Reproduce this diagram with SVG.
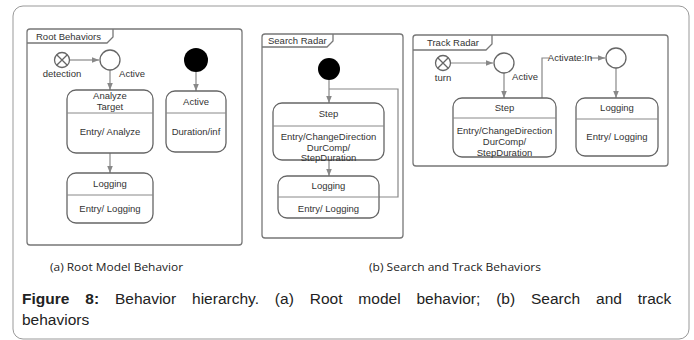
<svg xmlns="http://www.w3.org/2000/svg" width="694" height="340" viewBox="0 0 694 340">
<defs>
<marker id="ah" viewBox="0 0 10 10" refX="10" refY="5" markerWidth="7" markerHeight="7" markerUnits="userSpaceOnUse" orient="auto">
<path d="M0,1 L10,5 L0,9 Z" fill="#888"/>
</marker>
<style>
.frame{fill:none;stroke:#777;stroke-width:1.3}
.st{fill:#fff;stroke:#666;stroke-width:1.3}
.dv{stroke:#888;stroke-width:1}
.ln{fill:none;stroke:#888;stroke-width:1.2}
.arr{fill:none;stroke:#888;stroke-width:1.2;marker-end:url(#ah)}
.t{font-family:"Liberation Sans",Arial,sans-serif;font-size:9.5px;fill:#333;text-anchor:middle}
.tl{font-family:"Liberation Sans",Arial,sans-serif;font-size:9.5px;fill:#333}
.cap{font-family:"Open Sans","Liberation Sans",sans-serif;font-size:10px;fill:#222}
.fig{font-family:"Liberation Sans",Arial,sans-serif;font-size:15.5px;fill:#222}
</style>
</defs>
<rect x="13" y="6" width="676" height="333" rx="10" fill="#fff" stroke="#999" stroke-width="1"/>

<g id="root-frame">
<rect class="frame" x="27" y="29" width="215" height="216" rx="3"/>
<path class="frame" d="M27,43 H107 L113,37 V29"/>
<text class="tl" x="36" y="39.5">Root Behaviors</text>
</g>
<g id="search-frame">
<rect class="frame" x="262" y="34" width="141" height="204" rx="3"/>
<path class="frame" d="M262,47 H327 L333,41 V34"/>
<text class="tl" x="268" y="44">Search Radar</text>
</g>
<g id="track-frame">
<rect class="frame" x="413" y="35" width="255" height="131" rx="3"/>
<path class="frame" d="M413,50 H486 L492,44 V35"/>
<text class="tl" x="427" y="46">Track Radar</text>
</g>

<g id="connectors">
<line class="arr" x1="70" y1="60" x2="99" y2="60"/>
<line class="arr" x1="110" y1="70" x2="110" y2="90"/>
<line class="arr" x1="110" y1="153" x2="110" y2="173"/>
<line class="arr" x1="196" y1="72" x2="196" y2="91"/>
<line class="arr" x1="329" y1="80" x2="329" y2="103"/>
<line class="arr" x1="329" y1="160" x2="329" y2="176"/>
<path class="ln" d="M379,197 H398 V89 H329"/>
<line class="arr" x1="450" y1="63" x2="493" y2="63"/>
<line class="arr" x1="504" y1="73" x2="504" y2="98"/>
<path class="ln" d="M542,98 V58 H549"/>
<line class="arr" x1="590" y1="58" x2="605" y2="58"/>
<line class="arr" x1="616" y1="68" x2="616" y2="98"/>
<text class="t" x="570" y="61">Activate:In</text>
</g>

<g id="detection">
<circle cx="62" cy="60" r="7.5" fill="#fff" stroke="#666" stroke-width="1.3"/>
<path d="M56.7,54.7 L67.3,65.3 M67.3,54.7 L56.7,65.3" stroke="#666" stroke-width="1.3"/>
<text class="t" x="62" y="77">detection</text>
</g>
<g id="root-active-point">
<circle cx="110" cy="60" r="10" fill="#fff" stroke="#666" stroke-width="1.3"/>
<text class="t" x="132" y="77">Active</text>
</g>
<g id="analyze-target">
<rect class="st" x="67" y="90" width="86" height="63" rx="9"/>
<line class="dv" x1="67" y1="113" x2="153" y2="113"/>
<text class="t" x="110" y="99">Analyze</text>
<text class="t" x="110" y="110">Target</text>
<text class="t" x="110" y="135">Entry/ Analyze</text>
</g>
<g id="root-logging">
<rect class="st" x="67" y="173" width="86" height="50" rx="9"/>
<line class="dv" x1="67" y1="195" x2="153" y2="195"/>
<text class="t" x="110" y="187">Logging</text>
<text class="t" x="110" y="212">Entry/ Logging</text>
</g>
<g id="root-initial">
<circle cx="196" cy="60" r="12" fill="#000"/>
</g>
<g id="root-active">
<rect class="st" x="166" y="91" width="60" height="61" rx="9"/>
<line class="dv" x1="166" y1="113" x2="226" y2="113"/>
<text class="t" x="196" y="105">Active</text>
<text class="t" x="196" y="135">Duration/inf</text>
</g>

<g id="search-initial">
<circle cx="329" cy="69" r="11" fill="#000"/>
</g>
<g id="search-step">
<rect class="st" x="273" y="103" width="111" height="57" rx="9"/>
<line class="dv" x1="273" y1="126" x2="384" y2="126"/>
<text class="t" x="328.5" y="117">Step</text>
<text class="t" x="328.5" y="140">Entry/ChangeDirection</text>
<text class="t" x="328.5" y="150.5">DurComp/</text>
<text class="t" x="328.5" y="161">StepDuration</text>
</g>
<g id="search-logging">
<rect class="st" x="278" y="176" width="101" height="42" rx="9"/>
<line class="dv" x1="278" y1="197" x2="379" y2="197"/>
<text class="t" x="328.5" y="189">Logging</text>
<text class="t" x="328.5" y="212">Entry/ Logging</text>
</g>

<g id="turn">
<circle cx="443" cy="63" r="7.5" fill="#fff" stroke="#666" stroke-width="1.3"/>
<path d="M437.7,57.7 L448.3,68.3 M448.3,57.7 L437.7,68.3" stroke="#666" stroke-width="1.3"/>
<text class="t" x="443" y="81">turn</text>
</g>
<g id="track-active-point">
<circle cx="504" cy="63" r="10" fill="#fff" stroke="#666" stroke-width="1.3"/>
<text class="t" x="525" y="80">Active</text>
</g>
<g id="track-step">
<rect class="st" x="453" y="98" width="103" height="59" rx="9"/>
<line class="dv" x1="453" y1="118" x2="556" y2="118"/>
<text class="t" x="504.5" y="111">Step</text>
<text class="t" x="504.5" y="134">Entry/ChangeDirection</text>
<text class="t" x="504.5" y="145">DurComp/</text>
<text class="t" x="504.5" y="156">StepDuration</text>
</g>
<g id="track-point">
<circle cx="616" cy="58" r="10" fill="#fff" stroke="#666" stroke-width="1.3"/>
</g>
<g id="track-logging">
<rect class="st" x="576" y="98" width="82" height="58" rx="9"/>
<line class="dv" x1="576" y1="119" x2="658" y2="119"/>
<text class="t" x="617" y="111">Logging</text>
<text class="t" x="617" y="140">Entry/ Logging</text>
</g>

<text class="cap" x="50" y="271" textLength="133" lengthAdjust="spacingAndGlyphs">(a) Root Model Behavior</text>
<text class="cap" x="369" y="271" textLength="172" lengthAdjust="spacingAndGlyphs">(b) Search and Track Behaviors</text>
<text class="fig" x="22" y="304" word-spacing="11.6"><tspan font-weight="bold">Figure 8:</tspan> Behavior hierarchy. (a) Root model behavior; (b) Search and track</text>
<text class="fig" x="22" y="325">behaviors</text>
</svg>
